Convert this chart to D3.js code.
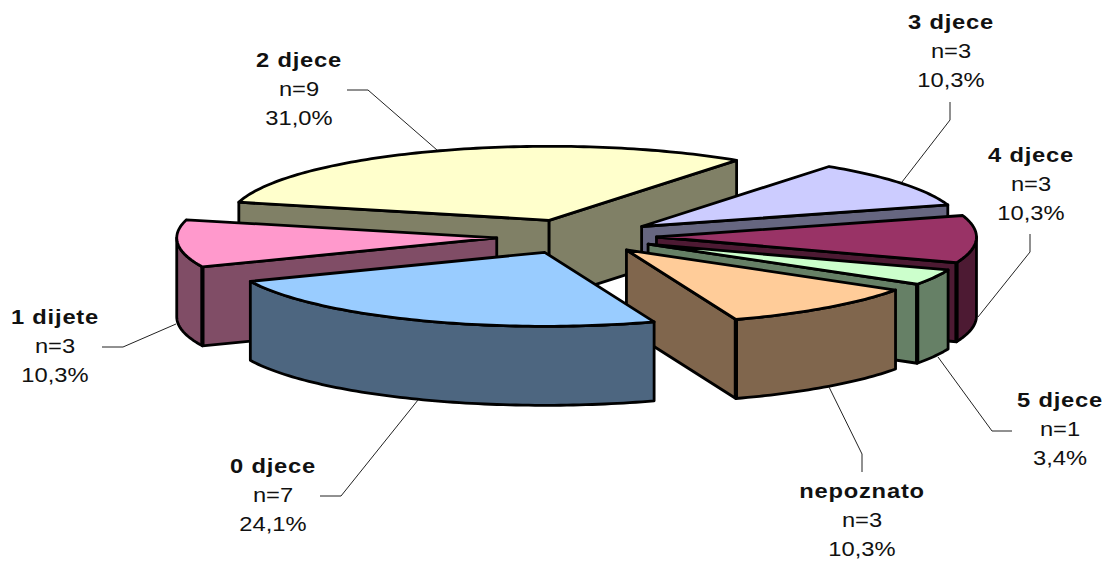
<!DOCTYPE html>
<html>
<head>
<meta charset="utf-8">
<script src="https://cdnjs.cloudflare.com/ajax/libs/d3/7.8.5/d3.min.js"></script>
<style>
html,body{margin:0;padding:0;background:#fff}
svg{display:block}
text{font-family:"Liberation Sans",Arial,sans-serif;fill:#111}
</style>
</head>
<body>
<svg id="c" width="1104" height="561"></svg>
<script>
const categories = ["0 djece","1 dijete","2 djece","3 djece","4 djece","5 djece","nepoznato"];
const counts = [7,3,9,3,3,1,3];
const countLabels = ["n=7","n=3","n=9","n=3","n=3","n=1","n=3"];
const percentLabels = ["24,1%","10,3%","31,0%","10,3%","10,3%","3,4%","10,3%"];
const topColors = ["#99CCFF","#FF99CC","#FFFFCC","#CCCCFF","#993366","#CCFFCC","#FFCC99"];
const sideColors = ["#4D6680","#804D66","#808066","#666680","#4D1A33","#668066","#80664D"];

// layout (kept apart from the data)
const W=1104,H=561, CX=576.5, CY=236.5, RX=320, RY=74, DEPTH=79, EXPLODE_X=0.25, EXPLODE_Y=0.233;
const START=70*Math.PI/180;
const labelAt = [[273,473],[55,324],[299,67],[951,29],[1031,162],[1060,407],[862,498]];
const leaders = [
 [[320,496],[341,496],[418,400]],
 [[102,347],[123,347],[176,324]],
 [[347,90],[368,90],[437,150]],
 [[950,102],[950,120],[902,182]],
 [[1030,234],[1030,252],[978,317]],
 [[1012,431],[992,431],[938,357]],
 [[862,472],[862,454],[829,387]]
];

const svg=d3.select("#c");
const x=d3.scaleLinear().domain([-1,1]).range([CX-RX,CX+RX]);
const y=d3.scaleLinear().domain([-1,1]).range([CY-RY,CY+RY]);
const pie=d3.pie().sort(null).startAngle(START).endAngle(START+2*Math.PI);
const arcs=pie(counts).map((d,i)=>{
  const mid=(d.startAngle+d.endAngle)/2;
  return {i,t0:d.startAngle,t1:d.endAngle,mid,
    ox:EXPLODE_X*Math.cos(mid),oy:EXPLODE_Y*Math.sin(mid)};
});
const line=d3.line().x(p=>p[0]).y(p=>p[1]);
function rim(s,a,b,dz){
  const n=Math.max(2,Math.ceil((b-a)/0.02));
  return d3.range(n+1).map(k=>{
    const t=a+(b-a)*k/n;
    return [x(s.ox+Math.cos(t)),y(s.oy+Math.sin(t))+dz];
  });
}
const apex=(s,dz)=>[x(s.ox),y(s.oy)+dz];
const order=arcs.slice().sort((p,q)=>Math.sin(p.mid)-Math.sin(q.mid));
const g=svg.append("g").attr("stroke","#000").attr("stroke-width",2.8).attr("stroke-linejoin","round");
order.forEach(s=>{
  const side=sideColors[s.i], top=topColors[s.i];
  const wall=pts=>g.append("path").attr("d",line(pts)+"Z").attr("fill",side);
  const corners=[];
  // radial cut faces facing the viewer
  [[s.t0,Math.cos(s.t0)<0],[s.t1,Math.cos(s.t1)>0]].forEach(([t,vis])=>{
    if(!vis) return;
    const e0=[x(s.ox+Math.cos(t)),y(s.oy+Math.sin(t))];
    wall([apex(s,0),e0,[e0[0],e0[1]+DEPTH],apex(s,DEPTH)]);
    if(Math.sin(t)>0) corners.push([e0,[e0[0],e0[1]+DEPTH]]);
  });
  // outer wall
  [[0,Math.PI],[2*Math.PI,3*Math.PI]].forEach(([lo,hi])=>{
    const a=Math.max(s.t0,lo), b=Math.min(s.t1,hi);
    if(b<=a) return;
    const f=rim(s,a,b,0), r=rim(s,a,b,DEPTH).reverse();
    wall(f.concat(r));
  });
  // heavier front corner edges
  corners.forEach(c=>g.append("path").attr("d",line(c)).attr("fill","none").attr("stroke-width",4.2));
  // top face
  g.append("path").attr("d",line([apex(s,0)].concat(rim(s,s.t0,s.t1,0)))+"Z").attr("fill",top);
});

// leaders
svg.append("g").attr("fill","none").attr("stroke","#222").attr("stroke-width",1)
  .selectAll("path").data(leaders).join("path").attr("d",d=>line(d));

// labels
const lab=svg.append("g").selectAll("g").data(categories).join("g")
  .attr("transform",(d,i)=>`translate(${labelAt[i][0]},${labelAt[i][1]}) scale(1.13,1)`)
  .attr("text-anchor","middle").attr("font-size",21);
lab.append("text").attr("font-weight","bold").attr("letter-spacing",0.7).text(d=>d);
lab.append("text").attr("y",29).text((d,i)=>countLabels[i]);
lab.append("text").attr("y",58).text((d,i)=>percentLabels[i]);
</script>
</body>
</html>
